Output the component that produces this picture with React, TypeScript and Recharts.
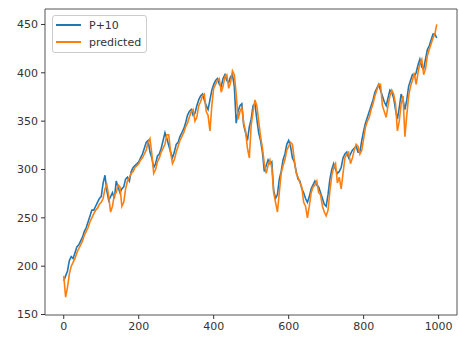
import { LineChart, Line, XAxis, YAxis, ReferenceArea } from "recharts";

// sample index (every 5th step)
const steps: number[] = Array.from({ length: 200 }, (_, i) => i * 5);

// "P+10" series
const actual: number[] = [
  185, 190, 195, 206, 210, 208, 214, 220, 222, 226, 230, 236, 240, 246, 252, 258, 258, 262, 266, 270,
  272, 286, 294, 278, 268, 272, 276, 270, 288, 282, 276, 280, 282, 290, 292, 288, 298, 302, 304, 306,
  308, 312, 316, 322, 328, 330, 318, 312, 302, 306, 314, 316, 322, 330, 338, 332, 325, 318, 312, 318,
  326, 328, 334, 338, 342, 348, 356, 360, 362, 356, 358, 366, 372, 376, 378, 372, 366, 362, 372, 382,
  388, 392, 394, 388, 386, 394, 398, 392, 390, 396, 398, 386, 348, 360, 366, 368, 346, 338, 330, 344,
  352, 366, 368, 352, 338, 330, 318, 298, 304, 310, 306, 308, 278, 270, 274, 290, 298, 310, 316, 326,
  330, 324, 312, 308, 298, 290, 288, 280, 276, 270, 266, 272, 280, 284, 288, 284, 282, 276, 270, 264,
  262, 274, 290, 300, 306, 300, 296, 298, 302, 312, 316, 318, 312, 316, 320, 322, 324, 318, 318, 330,
  340, 348, 354, 360, 366, 372, 380, 384, 388, 382, 376, 370, 366, 374, 382, 380, 374, 362, 352, 364,
  378, 372, 362, 372, 386, 392, 398, 396, 400, 408, 414, 406, 404, 414, 424, 428, 434, 440, 440, 436,
];

// "predicted" series
const predicted: number[] = [
  190, 168, 178, 192, 200, 204, 208, 214, 218, 222, 226, 232, 236, 240, 246, 250, 254, 258, 260, 264,
  266, 270, 280, 284, 272, 256, 262, 274, 276, 284, 282, 262, 266, 280, 288, 292, 296, 298, 302, 304,
  306, 310, 312, 316, 320, 328, 332, 316, 296, 300, 308, 312, 318, 322, 326, 336, 336, 318, 306, 310,
  318, 324, 330, 334, 338, 344, 348, 354, 360, 362, 350, 354, 366, 370, 376, 378, 360, 356, 340, 366,
  384, 388, 392, 394, 380, 386, 396, 398, 384, 390, 402, 398, 378, 352, 360, 364, 348, 340, 322, 312,
  346, 360, 372, 366, 350, 334, 322, 306, 296, 304, 310, 302, 276, 266, 256, 276, 296, 304, 310, 320,
  324, 328, 326, 310, 296, 292, 286, 282, 266, 262, 250, 262, 276, 282, 284, 288, 276, 274, 262, 256,
  252, 258, 278, 294, 302, 306, 286, 292, 280, 296, 312, 316, 318, 306, 312, 320, 326, 324, 316, 320,
  332, 344, 350, 354, 362, 368, 376, 382, 388, 388, 366, 360, 354, 366, 376, 382, 378, 368, 340, 350,
  368, 376, 334, 356, 376, 386, 392, 400, 388, 400, 410, 414, 398, 404, 418, 424, 430, 436, 440, 450,
];

const xTicks = [0, 200, 400, 600, 800, 1000];
const yTicks = [150, 200, 250, 300, 350, 400, 450];

const data = steps.map((x, i) => ({
  x,
  actual: actual[i],
  predicted: predicted[i],
}));

const tickStyle = { fill: "#333", fontSize: 11, fontFamily: "DejaVu Sans" };

export default function App() {
  return (
    <div style={{ position: "relative", width: 459, height: 338 }}>
      <style>{`body{margin:0}`}</style>
      <LineChart
        width={459}
        height={338}
        data={data}
        margin={{ top: 9, right: 2, left: 0, bottom: 0 }}
      >
        <XAxis
          dataKey="x"
          type="number"
          domain={[-50, 1049]}
          ticks={xTicks}
          tick={tickStyle}
          tickSize={4}
          tickMargin={3}
          height={23}
          axisLine={false}
          tickLine={{ stroke: "#333" }}
        />
        <YAxis
          type="number"
          domain={[149.5, 466]}
          ticks={yTicks}
          tick={tickStyle}
          tickSize={4}
          tickMargin={3}
          width={45}
          axisLine={false}
          tickLine={{ stroke: "#333" }}
        />
        <ReferenceArea
          x1={-50}
          x2={1049}
          y1={149.5}
          y2={466}
          fill="none"
          stroke="#555"
          strokeWidth={1}
        />
        <Line
          dataKey="actual"
          stroke="#1f77b4"
          strokeWidth={1.6}
          dot={false}
          isAnimationActive={false}
        />
        <Line
          dataKey="predicted"
          stroke="#ff7f0e"
          strokeWidth={1.6}
          dot={false}
          isAnimationActive={false}
        />
      </LineChart>
      <div
        style={{
          position: "absolute",
          left: 52,
          top: 15,
          width: 95,
          height: 38,
          border: "1px solid #ccc",
          borderRadius: 3,
          background: "rgba(255,255,255,0.8)",
          fontFamily: "DejaVu Sans",
          fontSize: 11,
          color: "#333",
          boxSizing: "border-box",
        }}
      >
        {[
          { label: "P+10", color: "#1f77b4", top: 2 },
          { label: "predicted", color: "#ff7f0e", top: 19 },
        ].map((item) => (
          <div
            key={item.label}
            style={{
              position: "absolute",
              left: 3,
              top: item.top,
              display: "flex",
              alignItems: "center",
              height: 14,
            }}
          >
            <span
              style={{
                display: "inline-block",
                width: 25,
                height: 1.5,
                background: item.color,
                marginRight: 8,
              }}
            />
            <span>{item.label}</span>
          </div>
        ))}
      </div>
    </div>
  );
}
